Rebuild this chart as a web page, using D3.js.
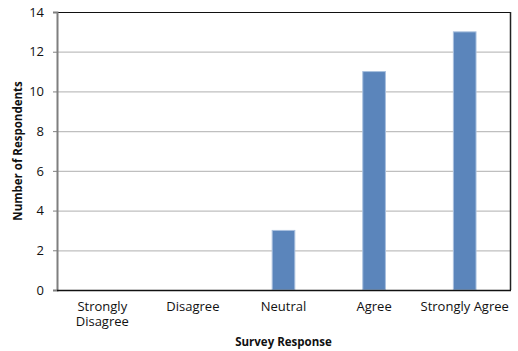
<!DOCTYPE html>
<html><head><meta charset="utf-8">
<script src="https://cdn.jsdelivr.net/npm/d3@7"></script>
<style>body{margin:0;background:#fff}svg{display:block}text{font-family:"Open Sans","DejaVu Sans",sans-serif}</style>
</head><body>
<svg id="c" width="518" height="351"></svg>
<script>
const categories = ["Strongly Disagree", "Disagree", "Neutral", "Agree", "Strongly Agree"];
const labelLines = [["Strongly", "Disagree"], ["Disagree"], ["Neutral"], ["Agree"], ["Strongly Agree"]];
const values = [0, 0, 3, 11, 13];
const yTicks = [0, 2, 4, 6, 8, 10, 12, 14];

const svg = d3.select("#c");
const m = {l: 57, t: 12, r: 510, b: 290};
const x = d3.scaleBand().domain(categories).range([m.l, m.r]).paddingInner(0.75).paddingOuter(0.375);
const y = d3.scaleLinear().domain([0, 14]).range([m.b, m.t]);

// gridlines
svg.append("g").selectAll("line").data(yTicks.filter(d => d > 0 && d < 14)).join("line")
  .attr("x1", m.l).attr("x2", m.r).attr("y1", d => y(d)+0.5).attr("y2", d => y(d)+0.5)
  .attr("stroke", "#bfbfbf").attr("stroke-width", 1.2);

// bars
const barData = values.map((v, i) => ({c: categories[i], v})).filter(d => d.v > 0);
svg.append("g").selectAll("rect").data(barData).join("rect")
  .attr("x", d => x(d.c)).attr("width", x.bandwidth())
  .attr("y", d => y(d.v)).attr("height", d => y(0) - y(d.v))
  .attr("fill", "#5b85bb").attr("stroke", "#a9c0de").attr("stroke-width", 1);

// frame: top and right
svg.append("line").attr("x1", m.l).attr("x2", m.r).attr("y1", m.t+0.5).attr("y2", m.t+0.5).attr("stroke", "#111").attr("stroke-width", 1.2);
svg.append("line").attr("x1", m.r+0.5).attr("x2", m.r+0.5).attr("y1", m.t).attr("y2", m.b).attr("stroke", "#222").attr("stroke-width", 1.5);

// y axis
const ya = svg.append("g").attr("transform", `translate(${m.l},0)`)
  .call(d3.axisLeft(y).tickValues(yTicks).tickSize(4).tickPadding(9).tickFormat(d3.format("d")));
ya.select(".domain").attr("stroke", "#7f7f7f").attr("stroke-width", 2);
ya.selectAll(".tick line").attr("stroke", "#7f7f7f");
ya.selectAll(".tick text").attr("font-size", 13).attr("fill", "#111").attr("font-family", '"Open Sans",sans-serif');

// x axis line
svg.append("line").attr("x1", m.l).attr("x2", m.r+1).attr("y1", m.b+0.5).attr("y2", m.b+0.5).attr("stroke", "#111").attr("stroke-width", 1.5);

// x labels
const lines = [];
categories.forEach((c, i) => labelLines[i].forEach((s, j) => lines.push({c, s, j})));
svg.append("g").selectAll("text").data(lines).join("text")
  .attr("x", d => x(d.c) + x.bandwidth()/2).attr("y", d => 311 + d.j * 15)
  .attr("text-anchor", "middle").attr("font-size", 13).attr("fill", "#111").text(d => d.s);

// axis titles
svg.append("text").attr("x", (m.l+m.r)/2).attr("y", 346).attr("text-anchor", "middle")
  .attr("font-size", 11.5).attr("font-weight", "bold").attr("fill", "#111").text("Survey Response");
svg.append("text").attr("transform", `translate(22,${(m.t+m.b)/2}) rotate(-90)`).attr("text-anchor", "middle")
  .attr("font-size", 11.5).attr("font-weight", "bold").attr("fill", "#111").text("Number of Respondents");
</script>
</body></html>
